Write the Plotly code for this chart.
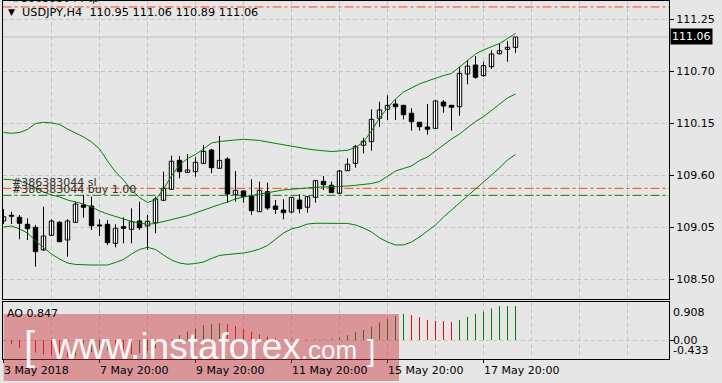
import plotly.graph_objects as go

# ---------------- data ----------------
opens = [109.116,109.176,109.155,109.081,109.049,108.810,108.965,109.102,108.915,109.102,
         109.285,109.274,109.074,109.081,108.880,109.056,109.028,109.116,109.063,109.098,
         109.335,109.451,109.757,109.630,109.637,109.725,109.866,109.673,109.771,109.394,
         109.433,109.380,109.214,109.425,109.274,109.232,109.211,109.338,109.261,109.366,
         109.535,109.493,109.409,109.647,109.725,109.916,109.954,110.201,110.296,110.352,
         110.338,110.254,110.159,110.109,110.095,110.373,110.338,110.323,110.669,110.764,
         110.651,110.746,110.883,110.930,110.95]
highs = [109.243,109.214,109.179,109.144,109.074,109.267,109.134,109.116,109.134,109.320,
         109.391,109.373,109.134,109.126,109.081,109.155,109.250,109.320,109.179,109.373,
         109.637,109.806,109.803,109.824,109.789,109.919,109.877,110.014,109.789,109.644,
         109.443,109.556,109.531,109.521,109.338,109.345,109.369,109.398,109.380,109.549,
         109.591,109.531,109.655,109.778,109.919,109.996,110.296,110.376,110.444,110.402,
         110.342,110.307,110.162,110.352,110.394,110.394,110.342,110.746,110.817,110.859,
         110.799,110.922,110.993,111.018,111.06]
lows = [109.084,109.084,108.923,108.915,108.633,108.799,108.957,108.894,108.739,109.095,
        109.151,109.021,108.957,108.862,108.838,108.880,108.880,109.021,108.810,108.986,
        109.327,109.443,109.567,109.630,109.584,109.718,109.620,109.673,109.309,109.320,
        109.309,109.179,109.211,109.232,109.190,109.134,109.197,109.197,109.204,109.309,
        109.443,109.412,109.401,109.644,109.679,109.830,109.859,110.109,110.183,110.183,
        110.190,110.070,110.070,110.028,110.088,110.260,110.070,110.228,110.560,110.619,
        110.640,110.722,110.877,110.799,110.89]
closes = [109.161,109.166,109.092,109.035,108.792,108.957,109.116,108.897,109.116,109.295,
          109.261,109.066,109.063,108.887,109.039,109.039,109.109,109.045,109.113,109.348,
          109.461,109.747,109.637,109.655,109.736,109.852,109.679,109.757,109.401,109.440,
          109.373,109.225,109.440,109.253,109.239,109.204,109.366,109.246,109.373,109.542,
          109.499,109.416,109.644,109.715,109.901,109.958,110.190,110.289,110.338,110.323,
          110.239,110.165,110.112,110.085,110.384,110.331,110.317,110.676,110.753,110.634,
          110.757,110.880,110.915,110.951,111.06]

bb_upper = [110.051,110.043,110.051,110.083,110.146,110.159,110.152,110.136,110.088,110.046,
            110.004,109.951,109.877,109.750,109.634,109.549,109.444,109.364,109.312,109.338,
            109.454,109.592,109.708,109.776,109.819,109.877,109.940,109.956,109.967,109.972,
            109.979,109.972,109.967,109.951,109.935,109.919,109.901,109.887,109.877,109.866,
            109.859,109.850,109.856,109.863,109.893,109.951,110.067,110.204,110.310,110.405,
            110.479,110.521,110.564,110.595,110.627,110.653,110.674,110.743,110.817,110.880,
            110.923,110.954,110.991,111.044,111.099]
bb_middle = [109.557,109.552,109.539,109.507,109.465,109.423,109.391,109.370,109.338,109.317,
             109.296,109.264,109.222,109.190,109.164,109.137,109.111,109.095,109.081,109.090,
             109.111,109.127,109.148,109.172,109.201,109.232,109.264,109.290,109.317,109.349,
             109.370,109.386,109.401,109.415,109.428,109.444,109.451,109.459,109.470,109.472,
             109.475,109.477,109.481,109.486,109.493,109.500,109.512,109.533,109.592,109.644,
             109.671,109.697,109.755,109.792,109.856,109.919,109.982,110.035,110.099,110.167,
             110.218,110.284,110.358,110.416,110.458]
bb_lower = [109.053,109.063,109.032,108.989,108.905,108.831,108.767,108.715,108.672,108.657,
            108.651,108.651,108.651,108.651,108.678,108.709,108.767,108.815,108.838,108.815,
            108.757,108.704,108.672,108.659,108.667,108.683,108.720,108.752,108.762,108.767,
            108.778,108.794,108.820,108.857,108.921,108.989,109.032,109.053,109.084,109.092,
            109.092,109.092,109.090,109.090,109.074,109.042,109.000,108.937,108.894,108.863,
            108.863,108.894,108.947,109.010,109.074,109.158,109.232,109.306,109.380,109.454,
            109.518,109.592,109.676,109.761,109.819]

ao = [-0.02,-0.10,-0.19,-0.25,-0.31,-0.36,-0.39,-0.42,-0.433,-0.40,
      -0.34,-0.30,-0.27,-0.26,-0.29,-0.32,-0.35,-0.33,-0.28,-0.20,
      -0.10,0.02,0.12,0.21,0.29,0.37,0.40,0.42,0.40,0.35,
      0.28,0.21,0.14,0.085,0.05,0.03,0.02,0.012,0.008,0.015,
      0.02,0.03,0.06,0.12,0.19,0.25,0.33,0.44,0.52,0.60,
      0.65,0.62,0.57,0.50,0.48,0.47,0.45,0.50,0.58,0.65,
      0.71,0.79,0.84,0.845,0.847]

time_label_bars = [0, 12, 24, 36, 48, 60]
time_labels = ["3 May 2018", "7 May 20:00", "9 May 20:00", "11 May 20:00", "15 May 20:00", "17 May 20:00"]
price_ticks = [108.50, 109.05, 109.60, 110.15, 110.70, 111.25]
ao_scale_labels = [0.908, 0.00, -0.433]

order_id = "#386383044"
order_sl = 109.461
order_open = 109.387
order_tp = 111.377
order_lots = 1.00
symbol = "USDJPY,H4"

# ---------------- layout geometry ----------------
W, H = 722, 383
BG = "#E6E6E6"
GRID = "#C4C4C4"
FONT = "DejaVu Sans"

def px_x(p):
    return p / W

def px_y(p):
    return 1 - p / H

bars = list(range(len(opens)))
x_range = [-0.125, 83.1875]
dom_x = [px_x(2.5), px_x(669)]
dom_main = [px_y(299), px_y(0.5)]
dom_ao = [px_y(359), px_y(301.7)]
main_range = [108.2918, 111.4455]
ao_range = [-0.4738, 0.9551]
grid_vals = list(range(0, 84, 6))

fig = go.Figure()

# candle wicks
wx, wy = [], []
for i, (h, l) in enumerate(zip(highs, lows)):
    wx += [i, i, None]
    wy += [l, h, None]
fig.add_trace(go.Scatter(x=wx, y=wy, mode="lines", line=dict(color="black", width=1),
                         hoverinfo="skip", showlegend=False, xaxis="x", yaxis="y"))
# candle bodies
base = [min(o, c) for o, c in zip(opens, closes)]
hgt = [max(abs(c - o), 0.0005) for o, c in zip(opens, closes)]
cols = ["white" if c >= o else "black" for o, c in zip(opens, closes)]
fig.add_trace(go.Bar(x=bars, y=hgt, base=base, width=0.55,
                     marker=dict(color=cols, line=dict(color="black", width=1)),
                     showlegend=False, xaxis="x", yaxis="y"))
# Bollinger bands
for band in (bb_upper, bb_middle, bb_lower):
    fig.add_trace(go.Scatter(x=bars, y=band, mode="lines", line=dict(color="#008000", width=1),
                             showlegend=False, hoverinfo="skip", xaxis="x", yaxis="y"))

# AO histogram
gx, gy, rx, ry = [], [], [], []
for i, v in enumerate(ao):
    up = i > 0 and v > ao[i - 1]
    if up:
        gx += [i, i, None]; gy += [0, v, None]
    else:
        rx += [i, i, None]; ry += [0, v, None]
fig.add_trace(go.Scatter(x=gx, y=gy, mode="lines", line=dict(color="#008000", width=1),
                         showlegend=False, hoverinfo="skip", xaxis="x2", yaxis="y2"))
fig.add_trace(go.Scatter(x=rx, y=ry, mode="lines", line=dict(color="#FF0000", width=1),
                         showlegend=False, hoverinfo="skip", xaxis="x2", yaxis="y2"))

axis_common = dict(showline=True, mirror=True, linecolor="black", linewidth=1,
                   zeroline=False, gridcolor=GRID, griddash="4px,3px", gridwidth=1)

fig.update_layout(
    width=W, height=H, margin=dict(l=0, r=0, t=0, b=0),
    paper_bgcolor=BG, plot_bgcolor=BG, showlegend=False,
    font=dict(family=FONT, size=11, color="black"),
    xaxis=dict(domain=dom_x, range=x_range, anchor="y", tickmode="array", tickvals=grid_vals,
               showticklabels=False, ticks="", showgrid=True, **axis_common),
    yaxis=dict(domain=dom_main, range=main_range, anchor="x", side="right", tickmode="array",
               tickvals=price_ticks, ticktext=[f"{v:.2f}" for v in price_ticks],
               ticks="outside", ticklen=4, tickcolor="black", showgrid=True, **axis_common),
    xaxis2=dict(domain=dom_x, range=x_range, anchor="y2", tickmode="array", tickvals=time_label_bars,
                showticklabels=False, ticks="outside", ticklen=3, tickcolor="black", showgrid=True,
                minor=dict(tickvals=grid_vals, showgrid=True, gridcolor=GRID, griddash="4px,3px", ticks=""),
                **axis_common),
    yaxis2=dict(domain=dom_ao, range=ao_range, anchor="x2", side="right", tickmode="array",
                tickvals=[0], showticklabels=False, ticks="outside", ticklen=4, tickcolor="black",
                showgrid=True, **axis_common),
)

shapes = []
dashdot = "9px,3px,3px,3px"
shapes.append(dict(type="line", xref="x domain", yref="y", x0=0, x1=1, y0=closes[-1], y1=closes[-1],
                   line=dict(color="#BEBEBE", width=1), layer="below"))
for lvl, col in ((order_tp, "#FF4500"), (order_sl, "#FF4500"), (order_open, "#008000")):
    shapes.append(dict(type="line", xref="x domain", yref="y", x0=0, x1=1, y0=lvl, y1=lvl,
                       line=dict(color=col, width=1, dash=dashdot), layer="below"))
# watermark band
shapes.append(dict(type="rect", xref="paper", yref="paper", x0=px_x(3.7), x1=px_x(399),
                   y0=px_y(381), y1=px_y(314), fillcolor="rgba(204,51,60,0.45)",
                   line=dict(width=0), layer="above"))
fig.update_layout(shapes=shapes)

ann = []
# header
ann.append(dict(text="▼", x=px_x(6), y=px_y(12), xref="paper", yref="paper", xanchor="left",
                yanchor="middle", showarrow=False, font=dict(size=9, color="black")))
hdr = f"{symbol}\u00a0\u00a0{opens[-1]:.2f} {highs[-1]:.2f} {lows[-1]:.2f} {closes[-1]:.2f}"
ann.append(dict(text=hdr, x=px_x(20), y=px_y(12), xref="paper", yref="paper", xanchor="left",
                yanchor="middle", showarrow=False, font=dict(size=11.3, color="black")))
# order labels
ann.append(dict(text=f"{order_id} tp", x=px_x(10), y=order_tp, xref="paper", yref="y",
                xanchor="left", yanchor="bottom", showarrow=False, font=dict(size=11, color="#303030")))
ann.append(dict(text=f"{order_id} sl", x=px_x(10), y=order_sl, xref="paper", yref="y", yshift=-3,
                xanchor="left", yanchor="bottom", showarrow=False, font=dict(size=11, color="#303030")))
ann.append(dict(text=f"{order_id} buy {order_lots:.2f}", x=px_x(10), y=order_open, xref="paper", yref="y",
                yshift=-3, xanchor="left", yanchor="bottom", showarrow=False,
                font=dict(size=11, color="#303030")))
# current price box
ann.append(dict(text=f"{closes[-1]:.2f}", x=px_x(670), y=closes[-1], xref="paper", yref="y",
                xanchor="left", yanchor="middle", showarrow=False, bgcolor="black", borderpad=1,
                font=dict(size=11, color="white")))
# AO labels
ann.append(dict(text=f"AO {ao[-1]:.3f}", x=px_x(5), y=px_y(313), xref="paper", yref="paper",
                xanchor="left", yanchor="middle", showarrow=False, font=dict(size=11, color="black")))
ann.append(dict(text=f"{ao_scale_labels[0]:.3f}", x=px_x(671), y=ao_scale_labels[0], xref="paper", yref="y2",
                xanchor="left", yanchor="top", showarrow=False, font=dict(size=11)))
ann.append(dict(text=f"{ao_scale_labels[1]:.2f}", x=px_x(671), y=ao_scale_labels[1], xref="paper", yref="y2",
                xanchor="left", yanchor="middle", showarrow=False, font=dict(size=11)))
ann.append(dict(text=f"{ao_scale_labels[2]:.3f}", x=px_x(671), y=ao_scale_labels[2], xref="paper", yref="y2",
                xanchor="left", yanchor="bottom", yshift=-2, showarrow=False, font=dict(size=11)))
# time labels
for b, t in zip(time_label_bars, time_labels):
    ann.append(dict(text=t, x=b, y=px_y(370), xref="x2", yref="paper", xanchor="left",
                    yanchor="middle", xshift=-2, showarrow=False, font=dict(size=11, color="black")))
# watermark text
ann.append(dict(text="www.instaforex<span style='font-size:26px'>.com</span>", x=px_x(49), y=px_y(346),
                xref="paper", yref="paper", xanchor="left", yanchor="middle", showarrow=False,
                font=dict(family="Liberation Sans", size=37, color="rgba(255,255,255,0.95)")))
ann.append(dict(text="[", x=px_x(22), y=px_y(346), xref="paper", yref="paper", xanchor="left",
                yanchor="middle", showarrow=False,
                font=dict(family="Liberation Sans", size=40, color="rgba(255,255,255,0.95)")))
ann.append(dict(text="]", x=px_x(365), y=px_y(350), xref="paper", yref="paper", xanchor="left",
                yanchor="middle", showarrow=False,
                font=dict(family="Liberation Sans", size=30, color="rgba(255,255,255,0.95)")))
fig.update_layout(annotations=ann)

fig.write_html("out.html")
